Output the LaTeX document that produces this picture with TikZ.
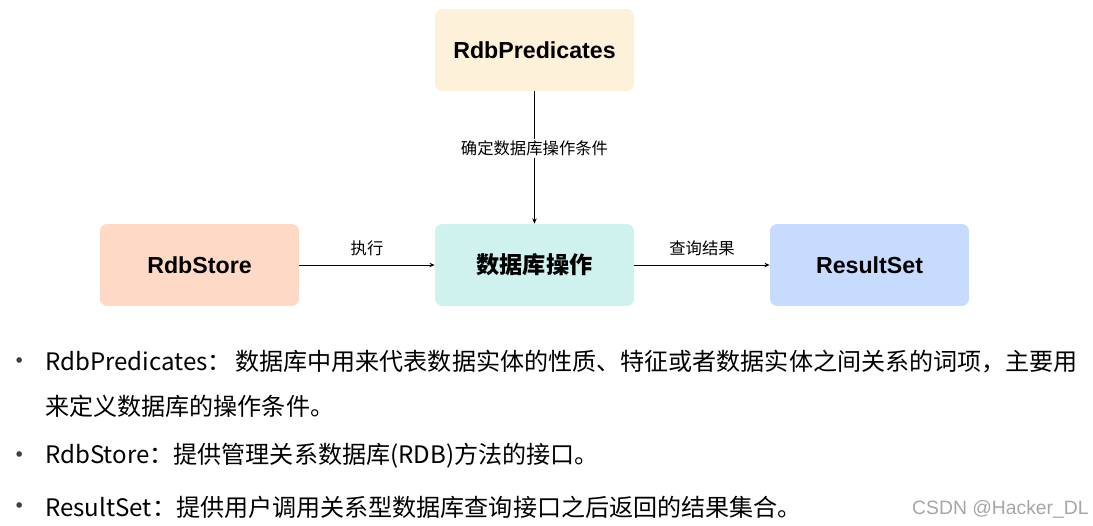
\documentclass[tikz,border=0pt]{standalone}
\usepackage{fontspec}
\setmainfont{Noto Sans CJK SC}
\newfontfamily\latinbold{Liberation Sans}
\usetikzlibrary{arrows.meta}

\definecolor{predfill}{HTML}{FDF1DA}
\definecolor{storefill}{HTML}{FDD9C6}
\definecolor{opfill}{HTML}{D0F2EF}
\definecolor{resfill}{HTML}{C6DBFE}

\begin{document}
\begin{tikzpicture}[x=0.02cm,y=-0.02cm,
  box/.style={rounded corners=4pt, minimum width=3.98cm, minimum height=1.64cm,
    inner sep=0pt, font=\fontsize{13.2}{15}\selectfont\bfseries},
  flow/.style={-{Stealth[length=3pt,width=2.5pt]}, line width=0.5pt},
  edgelabel/.style={font=\fontsize{9.3}{11}\selectfont, inner sep=1pt},
  bulletline/.style={anchor=west, inner sep=0pt, font=\fontsize{13.7}{15}\selectfont}]
\useasboundingbox (0,0) rectangle (1093,526);

% boxes
\node[box, fill=predfill] (pred) at (534.5,50) {\latinbold\bfseries RdbPredicates};
\node[box, fill=storefill] (store) at (199.5,265) {\latinbold\bfseries RdbStore};
\node[box, fill=opfill] (op) at (534.5,265) {数据库操作};
\node[box, fill=resfill] (res) at (869.5,265) {\latinbold\bfseries ResultSet};

% connectors
\draw[flow] (pred) -- node[edgelabel, fill=white, pos=0.43] (predlab) {确定数据库操作条件} (op);
\draw[flow] (store) -- node[edgelabel, above=4pt] (storelab) {执行} (op);
\draw[flow] (op) -- node[edgelabel, above=4pt] (reslab) {查询结果} (res);

% bullets
\foreach \y/\n in {364/bpred, 458/bstore, 509/bres}
  \node[inner sep=0pt, font=\fontsize{15}{17}\selectfont, text=black!75] (\n) at (20,\y) {•};
\node[bulletline] (tpred) at (45,362) {RdbPredicates：\kern2pt 数据库中用来代表数据实体的性质、特征或者数据实体之间关系的词项，主要用};
\node[bulletline] (tpredb) at (45,406) {来定义数据库的操作条件。};
\node[bulletline] (tstore) at (45,456) {RdbStore：提供管理关系数据库(RDB)方法的接口。};
\node[bulletline] (tres) at (45,507) {ResultSet：提供用户调用关系型数据库查询接口之后返回的结果集合。};

% watermark
\node[anchor=east, inner sep=0pt, text=black!35, font=\latinbold\fontsize{11}{13}\selectfont] (mark) at (1089,509) {CSDN @Hacker\_DL};
\end{tikzpicture}
\end{document}
